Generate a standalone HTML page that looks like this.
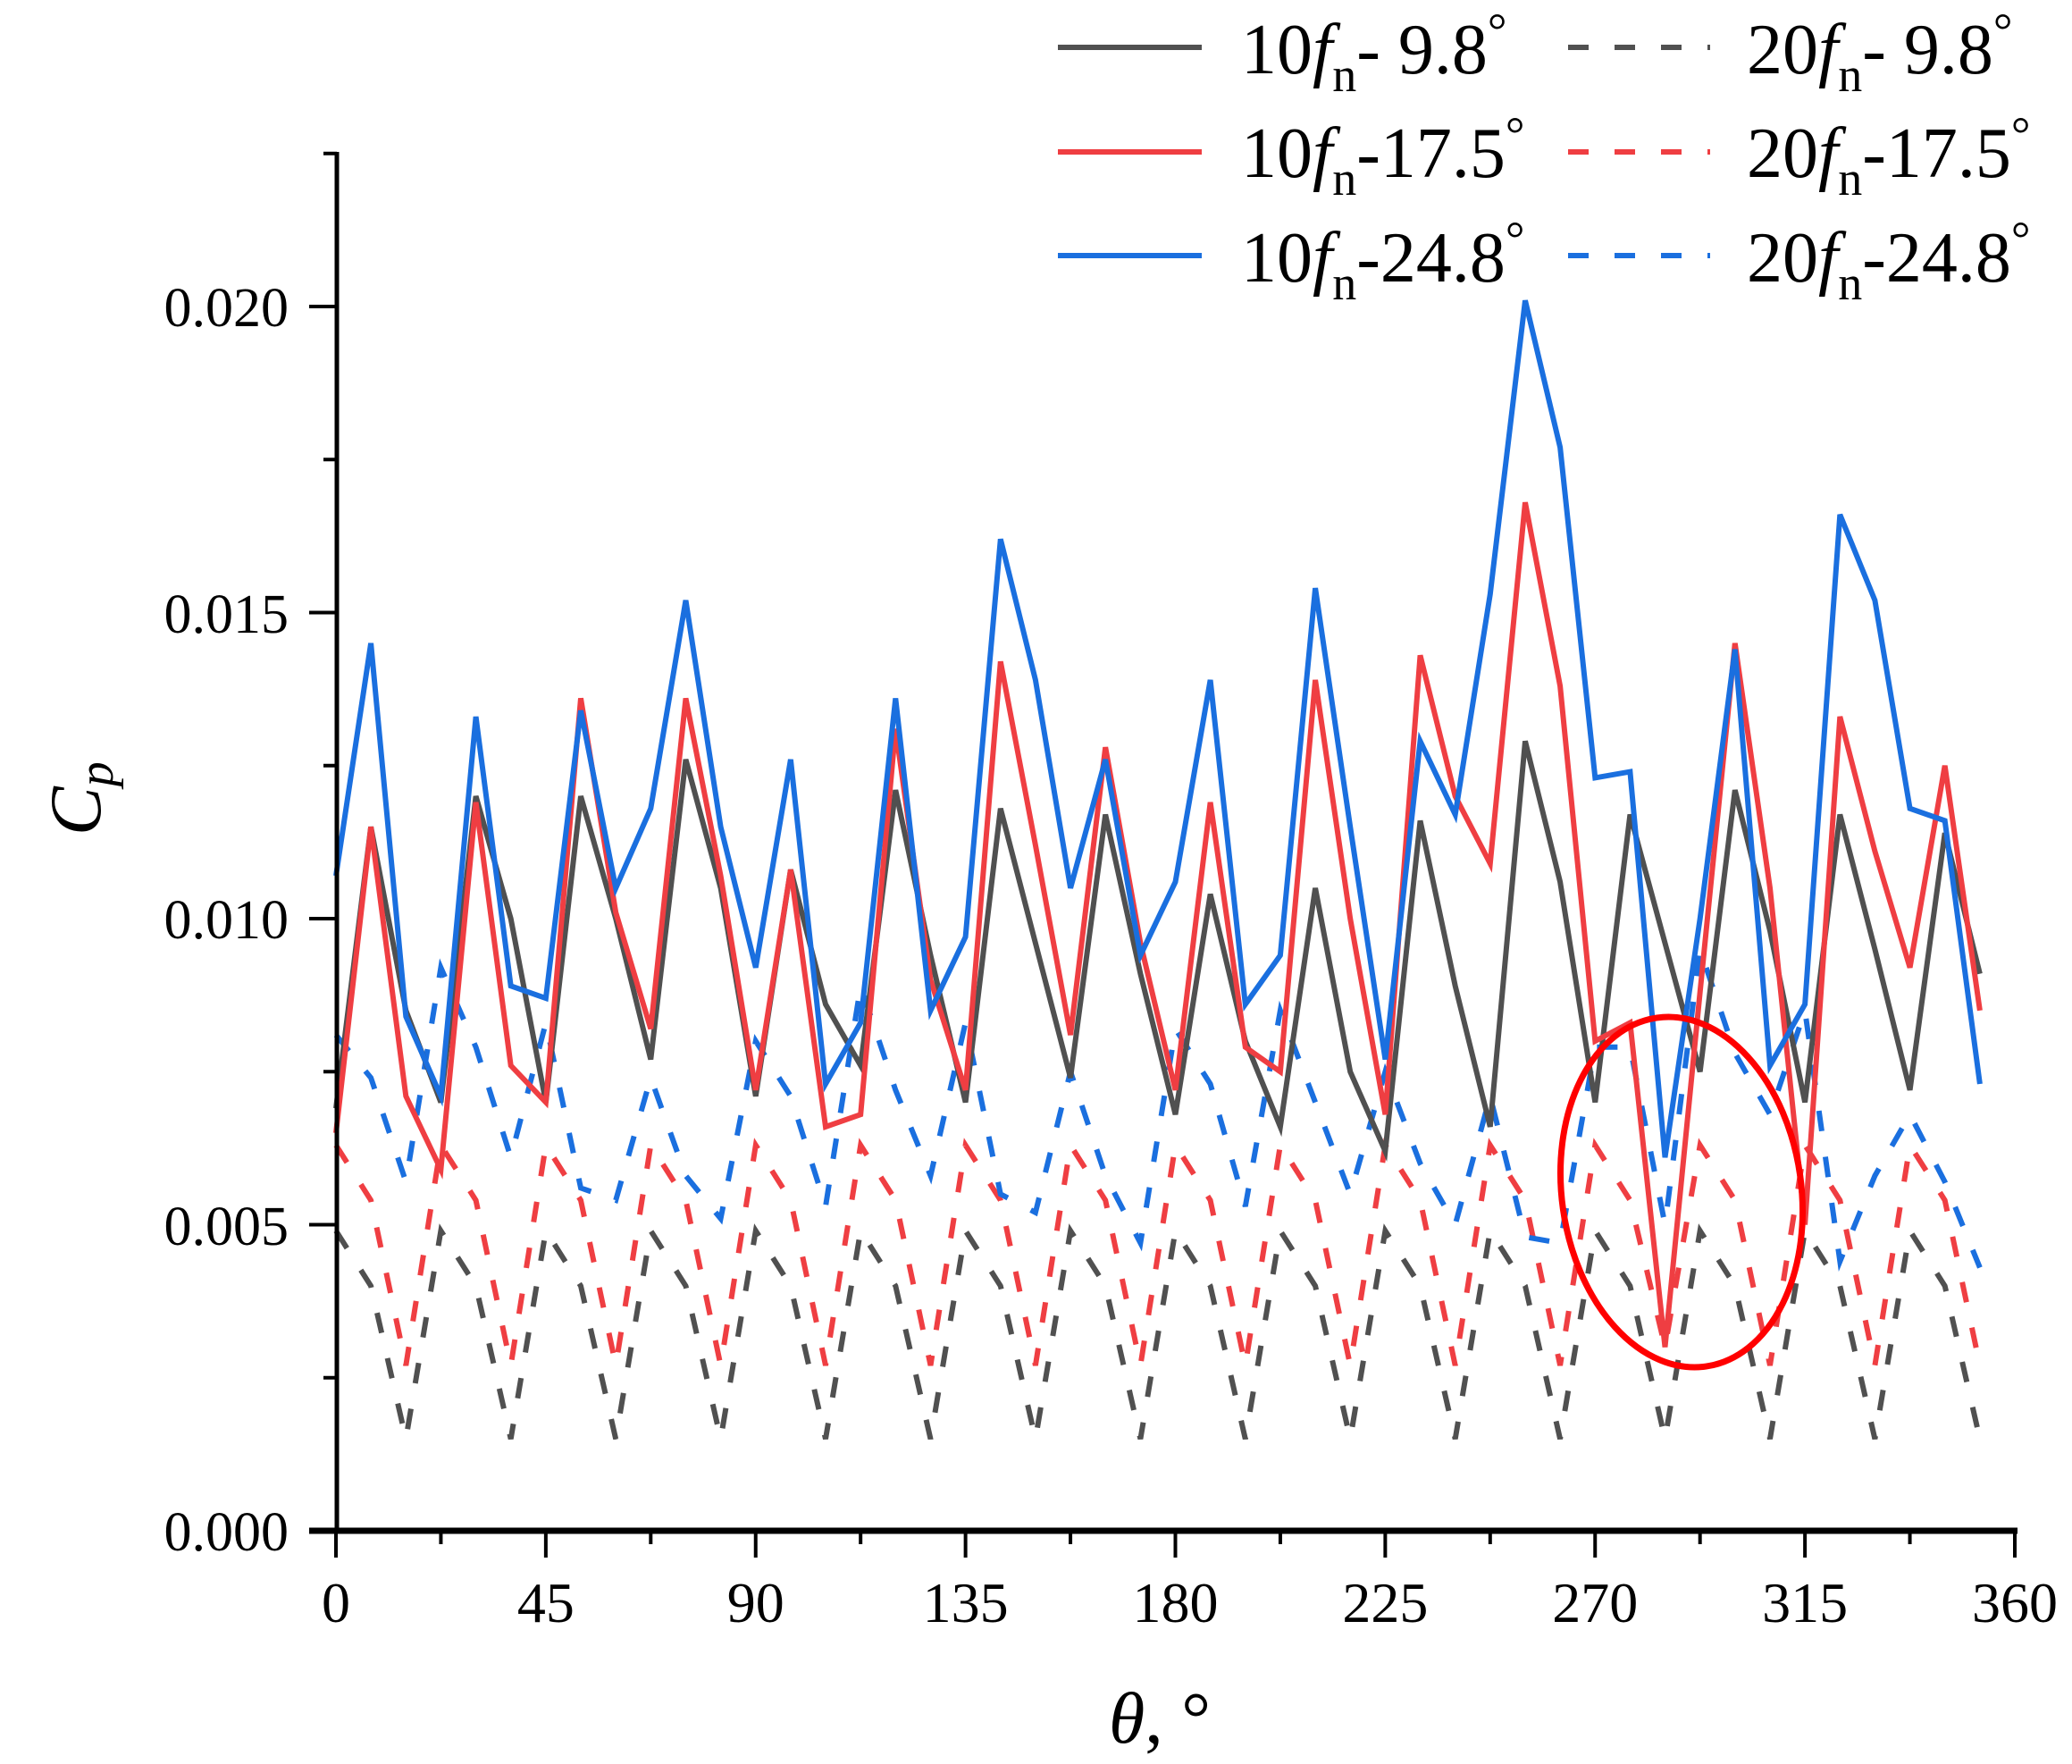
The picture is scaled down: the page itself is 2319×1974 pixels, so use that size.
<!DOCTYPE html>
<html><head><meta charset="utf-8"><style>
html,body{margin:0;padding:0;background:#fff;}
svg{display:block;}
text{font-family:"Liberation Serif",serif;fill:#000;}
</style></head><body>
<svg id="s" width="2319" height="1974" viewBox="0 0 2319 1974" xmlns="http://www.w3.org/2000/svg">
<g id="plot" fill="none" stroke-linejoin="miter" stroke-width="6"></g>
<ellipse cx="1882" cy="1334" rx="134" ry="197" fill="none" stroke="#ff0000" stroke-width="7" transform="rotate(-8 1882 1334)"/>
<g stroke="#000" stroke-width="5">
<line x1="377" y1="170" x2="377" y2="1716"/>
<line x1="346" y1="1713" x2="2258" y2="1713" stroke-width="7"/>
</g>
<g id="ticks" stroke="#000" stroke-width="4"></g>
<g font-size="62" text-anchor="end">
<text x="323" y="1735">0.000</text>
<text x="323" y="1393">0.005</text>
<text x="323" y="1050">0.010</text>
<text x="323" y="708">0.015</text>
<text x="323" y="365">0.020</text>
</g>
<g font-size="64" text-anchor="middle" id="xl"></g>
<text x="1241" y="1950" font-size="82" font-style="italic">θ<tspan font-style="normal">, °</tspan></text>
<text transform="translate(112,935) rotate(-90)" font-size="82" font-style="italic">C<tspan font-size="56" dy="14">p</tspan></text>
<g stroke-width="6">
<line x1="1184" y1="53" x2="1345" y2="53" stroke="#505050"/>
<line x1="1184" y1="170" x2="1345" y2="170" stroke="#ef3e42"/>
<line x1="1184" y1="286" x2="1345" y2="286" stroke="#1a6fdf"/>
<line x1="1755" y1="53" x2="1914" y2="53" stroke="#505050" stroke-dasharray="23 29"/>
<line x1="1755" y1="170" x2="1914" y2="170" stroke="#ef3e42" stroke-dasharray="23 29"/>
<line x1="1755" y1="286" x2="1914" y2="286" stroke="#1a6fdf" stroke-dasharray="23 29"/>
</g>
<g font-size="80">
<text x="1389" y="82">10<tspan font-style="italic">f</tspan><tspan font-size="54" dy="20">n</tspan><tspan dy="-20">-  9.8</tspan><tspan font-size="54" dy="-30">°</tspan></text>
<text x="1389" y="198">10<tspan font-style="italic">f</tspan><tspan font-size="54" dy="20">n</tspan><tspan dy="-20">-17.5</tspan><tspan font-size="54" dy="-30">°</tspan></text>
<text x="1389" y="315">10<tspan font-style="italic">f</tspan><tspan font-size="54" dy="20">n</tspan><tspan dy="-20">-24.8</tspan><tspan font-size="54" dy="-30">°</tspan></text>
<text x="1955" y="82">20<tspan font-style="italic">f</tspan><tspan font-size="54" dy="20">n</tspan><tspan dy="-20">-  9.8</tspan><tspan font-size="54" dy="-30">°</tspan></text>
<text x="1955" y="198">20<tspan font-style="italic">f</tspan><tspan font-size="54" dy="20">n</tspan><tspan dy="-20">-17.5</tspan><tspan font-size="54" dy="-30">°</tspan></text>
<text x="1955" y="315">20<tspan font-style="italic">f</tspan><tspan font-size="54" dy="20">n</tspan><tspan dy="-20">-24.8</tspan><tspan font-size="54" dy="-30">°</tspan></text>
</g>
</svg>
<script>
(function(){
var NS="http://www.w3.org/2000/svg";
function X(t){return 376+t*1879/360;}
function Y(v){return 1713-v*68500;}
var k=[0.0069,0.0115,0.0085,0.0070,0.0120,0.0100,0.0070,0.0120,0.0100,0.0077,0.0126,0.0105,0.0071,0.0108,0.0086,0.0076,0.0121,0.0094,0.0070,0.0118,0.0096,0.0074,0.0117,0.0091,0.0068,0.0104,0.0080,0.0066,0.0105,0.0075,0.0062,0.0116,0.0089,0.0066,0.0129,0.0106,0.0070,0.0117,0.0096,0.0075,0.0121,0.0098,0.0070,0.0117,0.0095,0.0072,0.0114,0.0091];
var r=[0.0065,0.0115,0.0071,0.0059,0.0119,0.0076,0.0070,0.0136,0.0101,0.0082,0.0136,0.0107,0.0072,0.0108,0.0066,0.0068,0.0131,0.0090,0.0072,0.0142,0.0112,0.0081,0.0128,0.0096,0.0072,0.0119,0.0079,0.0075,0.0139,0.0100,0.0068,0.0143,0.0120,0.0109,0.0168,0.0138,0.0080,0.0083,0.0030,0.0088,0.0145,0.0105,0.0050,0.0133,0.0111,0.0092,0.0125,0.0085];
var b=[0.0107,0.0145,0.0084,0.0071,0.0133,0.0089,0.0087,0.0134,0.0105,0.0118,0.0152,0.0115,0.0092,0.0126,0.0073,0.0083,0.0136,0.0085,0.0097,0.0162,0.0139,0.0105,0.0126,0.0094,0.0106,0.0139,0.0086,0.0094,0.0154,0.0115,0.0077,0.0129,0.0117,0.0153,0.0201,0.0177,0.0123,0.0124,0.0061,0.0100,0.0144,0.0076,0.0086,0.0166,0.0152,0.0118,0.0116,0.0073];
var bd=[0.0081,0.0074,0.0057,0.0092,0.0079,0.0061,0.0083,0.0056,0.0054,0.0074,0.0058,0.0051,0.0080,0.0071,0.0053,0.0089,0.0072,0.0058,0.0083,0.0055,0.0052,0.0075,0.0058,0.0047,0.0082,0.0073,0.0053,0.0085,0.0070,0.0055,0.0075,0.0060,0.0050,0.0071,0.0048,0.0047,0.0079,0.0079,0.0050,0.0095,0.0078,0.0068,0.0085,0.0044,0.0058,0.0068,0.0057,0.0043];
var kd=[],rd=[];
for(var i=0;i<48;i++){var m=i%3;kd.push([0.0049,0.0040,0.0015][m]);rd.push([0.0063,0.0054,0.0027][m]);}
rd[38]=0.0030;
var g=document.getElementById("plot");
function add(d,c,dash){var p=document.createElementNS(NS,"polyline");var s=[];for(var i=0;i<d.length;i++)s.push(X(i*7.5).toFixed(1)+","+Y(d[i]).toFixed(1));p.setAttribute("points",s.join(" "));p.setAttribute("stroke",c);if(dash)p.setAttribute("stroke-dasharray","23 29");g.appendChild(p);}
add(kd,"#505050",1);add(rd,"#ef3e42",1);add(bd,"#1a6fdf",1);
add(k,"#505050");add(r,"#ef3e42");add(b,"#1a6fdf");
var t=document.getElementById("ticks");
function ln(a,b2,c,d){var l=document.createElementNS(NS,"line");l.setAttribute("x1",a);l.setAttribute("y1",b2);l.setAttribute("x2",c);l.setAttribute("y2",d);t.appendChild(l);}
for(var j=0;j<=16;j++){var th=j*22.5,x=X(th);ln(x,1713,x,j%2?1728:1743);}
for(var j=0;j<=9;j++){var v=j*0.0025,y=Y(v);ln(j%2?362:346,y,377,y);}
var xl=document.getElementById("xl");
for(var j=0;j<=8;j++){var e=document.createElementNS(NS,"text");e.setAttribute("x",X(j*45));e.setAttribute("y",1815);e.textContent=String(j*45);xl.appendChild(e);}
})();
</script>
</body></html>
